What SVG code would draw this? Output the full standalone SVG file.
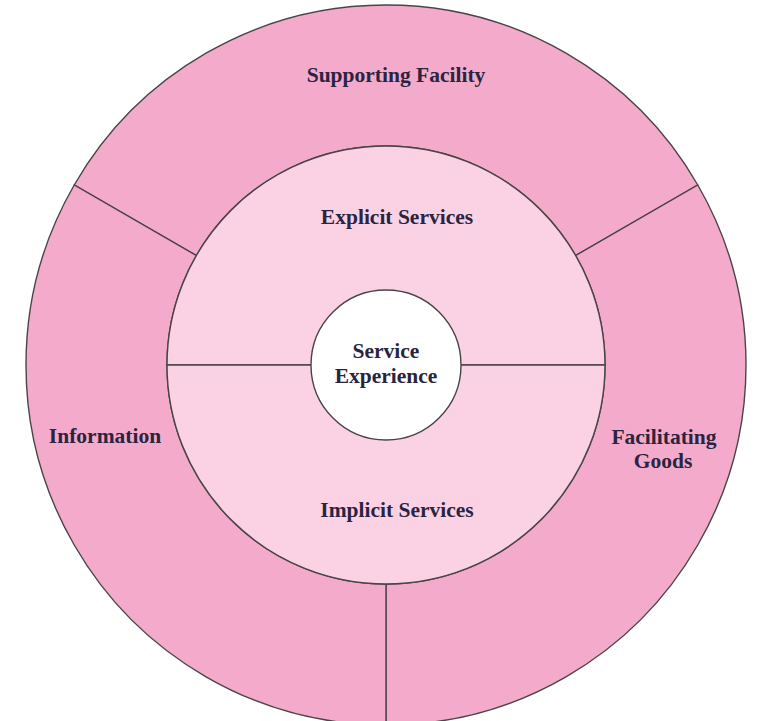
<svg xmlns="http://www.w3.org/2000/svg" width="759" height="721" viewBox="0 0 759 721">
  <style>
    .outer { fill: #F4AACA; stroke: #4A4448; stroke-width: 1.4; }
    .middle { fill: #FAD2E4; stroke: #4A4448; stroke-width: 1.4; }
    .core { fill: #FFFFFF; stroke: #4A4448; stroke-width: 1.4; }
    .label { font-family: "Liberation Serif", "Times New Roman", serif; font-weight: bold; font-size: 21.5px; fill: #2A2440; text-anchor: middle; }
  </style>
  <rect width="759" height="721" fill="#FFFFFF"/>

  <!-- outer ring: three 120-degree sectors -->
  <g id="supporting-facility">
    <path class="outer" d="M 74.23 185 A 360 360 0 0 1 697.77 185 L 575.66 255.5 A 219 219 0 0 0 196.34 255.5 Z"/>
    <text class="label" x="396" y="82">Supporting Facility</text>
  </g>
  <g id="facilitating-goods">
    <path class="outer" d="M 697.77 185 A 360 360 0 0 1 386 725 L 386 584 A 219 219 0 0 0 575.66 255.5 Z"/>
    <text class="label" x="664" y="444">Facilitating</text>
    <text class="label" x="663" y="468">Goods</text>
  </g>
  <g id="information">
    <path class="outer" d="M 386 725 A 360 360 0 0 1 74.23 185 L 196.34 255.5 A 219 219 0 0 0 386 584 Z"/>
    <text class="label" x="105" y="443">Information</text>
  </g>

  <!-- middle ring: two halves -->
  <g id="explicit-services">
    <path class="middle" d="M 167 365 A 219 219 0 0 1 605 365 Z"/>
    <text class="label" x="397" y="224">Explicit Services</text>
  </g>
  <g id="implicit-services">
    <path class="middle" d="M 605 365 A 219 219 0 0 1 167 365 Z"/>
    <text class="label" x="397" y="517">Implicit Services</text>
  </g>

  <!-- core -->
  <g id="service-experience">
    <circle class="core" cx="386" cy="365" r="75"/>
    <text class="label" x="386" y="358">Service</text>
    <text class="label" x="386" y="383">Experience</text>
  </g>

  <g id="connectors"></g>
</svg>
